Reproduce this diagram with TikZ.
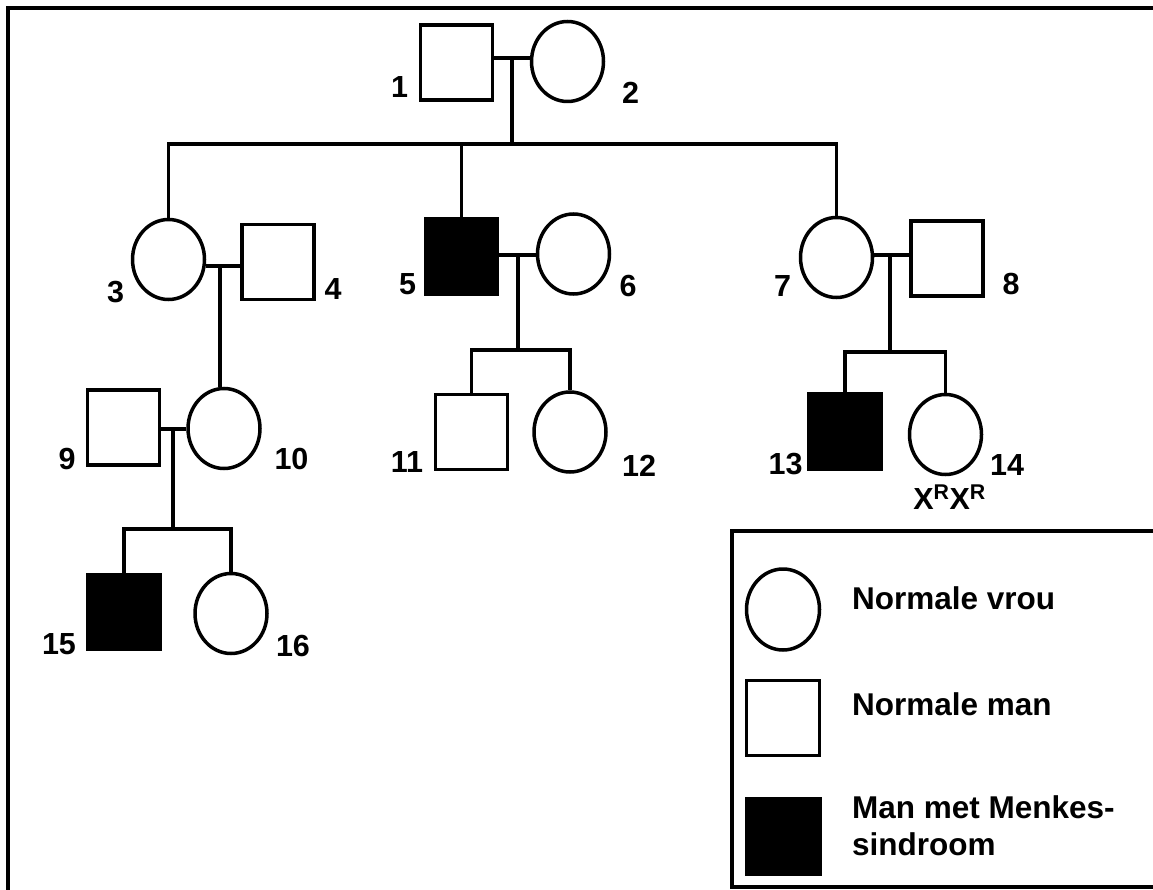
\documentclass[tikz,border=0pt]{standalone}
\usepackage{fontspec}
\setmainfont{Liberation Sans}
\usetikzlibrary{shapes.geometric}
\tikzset{
  fem/.style={ellipse, draw, line width=3.5pt, minimum width=72pt, minimum height=80pt, inner sep=0pt, fill=white},
  mal/.style={rectangle, draw, line width=3.5pt, minimum width=72pt, minimum height=75pt, inner sep=0pt, fill=white},
  aff/.style={mal, fill=black},
  num/.style={font=\fontsize{30.5}{36}\selectfont\bfseries, inner sep=0pt},
  legtxt/.style={font=\fontsize{31.5}{37}\selectfont\bfseries, inner sep=0pt, anchor=base west},
  conn/.style={line width=3.2pt}
}
\begin{document}
\begin{tikzpicture}[x=1pt,y=-1pt]
\useasboundingbox (0,0) rectangle (1153,890);
\clip (0,0) rectangle (1153,890);
\fill[white] (0,0) rectangle (1153,890);
% outer frame
\draw[line width=4pt] (8,900) -- (8,8) -- (1170,8);

% generation I
\node[mal] (n1) at (456.5,62.5) {};
\node[fem] (n2) at (567.5,61.5) {};
% generation II
\node[fem] (n3) at (168.5,259.5) {};
\node[mal] (n4) at (278,262) {};
\node[aff] (n5) at (461.5,256.5) {};
\node[fem] (n6) at (573.5,254) {};
\node[fem] (n7) at (836.5,257.5) {};
\node[mal] (n8) at (947,258.5) {};
% generation III
\node[mal] (n9) at (123.5,427.5) {};
\node[fem] (n10) at (224,428.5) {};
\node[mal] (n11) at (471.5,432) {};
\node[fem] (n12) at (570,432) {};
\node[aff] (n13) at (845,431.5) {};
\node[fem] (n14) at (945.5,434.5) {};
% generation IV
\node[aff] (n15) at (124,612) {};
\node[fem] (n16) at (231,613.5) {};

% number labels
\node[num] (l1) at (399.5,87.5) {1};
\node[num] (l2) at (630.5,92.5) {2};
\node[num] (l3) at (115.5,292.5) {3};
\node[num] (l4) at (333,289.5) {4};
\node[num] (l5) at (407.5,284.5) {5};
\node[num] (l6) at (628,286) {6};
\node[num] (l7) at (782.5,286) {7};
\node[num] (l8) at (1011,284) {8};
\node[num] (l9) at (67,459) {9};
\node[num] (l10) at (291.5,459) {10};
\node[num] (l11) at (407,462.5) {11};
\node[num] (l12) at (639,465.5) {12};
\node[num] (l13) at (785.5,464.5) {13};
\node[num] (l14) at (1007,465) {14};
\node[num] (l15) at (59,644) {15};
\node[num] (l16) at (293,646) {16};
\node[num, anchor=base] (gt) at (949.5,509) {X\textsuperscript{R}X\textsuperscript{R}};

% junction coordinates
\coordinate (m12) at (512,58);
\coordinate (s12) at (512,144);
\coordinate (m34) at (220,266);
\coordinate (m56) at (518,255);
\coordinate (s56) at (518,350);
\coordinate (m78) at (890,255);
\coordinate (s78) at (890,352);
\coordinate (m910) at (173,429);
\coordinate (s910) at (173,529);

% connectors
\draw[conn] (n1.east |- m12) -- (m12 -| n2.west);
\draw[conn] (m12) -- (s12);
\draw[conn] (n3.north) -- (n3.north |- s12) -- (n7.north |- s12) -- (n7.north);
\draw[conn] (n5.north) -- (n5.north |- s12);

\draw[conn] (n3.east |- m34) -- (m34 -| n4.west);
\draw[conn] (m34) -- (m34 |- n10.north);

\draw[conn] (n5.east |- m56) -- (m56 -| n6.west);
\draw[conn] (m56) -- (s56);
\draw[conn] (n11.north) -- (n11.north |- s56) -- (n12.north |- s56) -- (n12.north);

\draw[conn] (n7.east |- m78) -- (m78 -| n8.west);
\draw[conn] (m78) -- (s78);
\draw[conn] (n13.north) -- (n13.north |- s78) -- (n14.north |- s78) -- (n14.north);

\draw[conn] (n9.east |- m910) -- (m910 -| n10.west);
\draw[conn] (m910) -- (s910);
\draw[conn] (n15.north) -- (n15.north |- s910) -- (n16.north |- s910) -- (n16.north);

% legend
\draw[line width=3.2pt] (732,531) rectangle (1154.2,887);
\node[fem, minimum width=73pt, minimum height=81pt] (lf) at (783,609.5) {};
\node[mal, minimum width=73pt, minimum height=75pt] (lm) at (783,718) {};
\node[aff, minimum width=73pt, minimum height=76pt] (la) at (783.5,836.5) {};
\node[legtxt] (t1) at (852,609) {Normale vrou};
\node[legtxt] (t2) at (852,715) {Normale man};
\node[legtxt] (t3) at (852,818) {Man met Menkes-};
\node[legtxt] (t4) at (852,855) {sindroom};
\end{tikzpicture}
\end{document}
